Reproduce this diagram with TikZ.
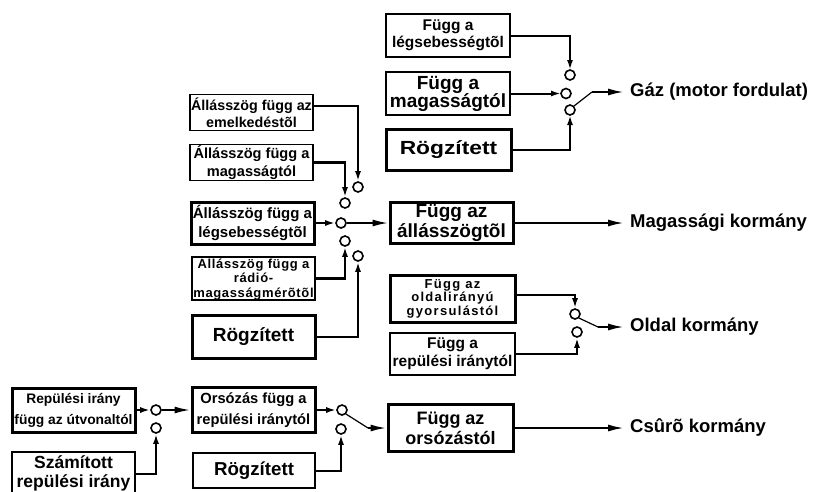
\documentclass[tikz,border=0pt]{standalone}
\usepackage{fontspec}
\usepackage{graphicx}
\setmainfont{Liberation Sans}
\newfontfamily\spacedA[LetterSpace=5]{Liberation Sans}
\newfontfamily\spacedB[LetterSpace=10]{Liberation Sans}
\usetikzlibrary{arrows.meta}
\newcommand\fsz[2]{\fontsize{#1}{#2}\selectfont}
\begin{document}
\begin{tikzpicture}[x=1pt,y=-1pt,
 every node/.style={inner sep=0pt, font=\bfseries},
 thinbox/.style={draw, line width=1.5pt, align=center, fill=white},
 thickbox/.style={draw, line width=3pt, align=center, fill=white},
 contact/.style={circle, draw, line width=1.6pt, minimum size=10pt, fill=white},
 conn/.style={line width=2pt},
 heavy/.style={line width=2.8pt},
 blade/.style={line width=1.2pt},
 tipS/.style={-{Latex[length=10pt,width=6pt]}},
 tipL/.style={-{Latex[length=16pt,width=7pt]}},
 lbl/.style={anchor=west, inner xsep=6pt, font=\bfseries\fsz{18.5}{20}}
]
\clip (0,0) rectangle (826,491);
\fill[white] (0,0) rectangle (826,491);

% ---------- top group (Gaz) ----------
\node[thinbox, minimum width=124pt, minimum height=43pt, font=\bfseries\fsz{15.5}{17}] (T1) at (448,35.5) {Függ a\\légsebességtõl};
\node[thinbox, minimum width=124pt, minimum height=43pt, font=\bfseries\fsz{19}{18}] (T2) at (448,93.5) {Függ a\\magasságtól};
\node[thickbox, minimum width=125pt, minimum height=41pt, font=\bfseries\fsz{19}{20}] (T3) at (448.5,149.5) {\scalebox{1.2}[1]{Rögzített}};

\node[lbl] (gaz) at (624,92) {Gáz (motor fordulat)};
\coordinate (gb) at (592,92);

\draw[conn,tipS] (T1.east) -| (570,70);
\draw[conn,tipS] (T2.east) -- (561,93.5);
\draw[conn,tipS] (T3.east) -| (570,115);
\node[contact] (cT1) at (570,75) {};
\node[contact] (cT2) at (566,93.5) {};
\node[contact] (cT3) at (570,110) {};
\draw[blade] (cT3.north east) -- (gb);
\draw[conn,tipL] (gb) -- (gaz.west);

% ---------- middle group (Magassagi) ----------
\node[thinbox, minimum width=123pt, minimum height=36pt, font=\bfseries\fsz{14.3}{17}] (M1) at (251.5,112.5) {Állásszög függ az\\emelkedéstõl};
\node[thinbox, minimum width=123pt, minimum height=36pt, font=\bfseries\fsz{14.6}{18}] (M2) at (251.5,162.5) {Állásszög függ a\\magasságtól};
\node[thickbox, minimum width=123pt, minimum height=42pt, font=\bfseries\fsz{15}{19}] (M3) at (252.5,223) {Állásszög függ a\\légsebességtõl};
\node[thinbox, minimum width=123pt, minimum height=43pt, font=\bfseries\spacedA\fsz{13}{14.5}] (M4) at (253.5,278.5) {Állásszög függ a\\rádió-\\magasságmérõtõl};
\node[thickbox, minimum width=123pt, minimum height=43pt, font=\bfseries\fsz{19}{20}] (M5) at (253.5,337) {Rögzített};

\node[thickbox, minimum width=123pt, minimum height=41pt, font=\bfseries\fsz{19}{20}] (F1) at (451.5,223) {Függ az\\állásszögtõl};
\node[lbl] (mag) at (624,223) {Magassági kormány};

\node[contact] (cM1) at (358,187) {};
\node[contact] (cM2) at (345,203) {};
\node[contact] (cM3) at (341,223) {};
\node[contact] (cM4) at (345,241) {};
\node[contact] (cM5) at (358,256) {};

\draw[conn,tipS] ([yshift=7pt]M1.east) -| (cM1);
\draw[heavy,tipS] (M2.east) -| (cM2);
\draw[conn,tipS] (M3.east) -- (cM3);
\draw[conn,tipL] (cM3) -- (F1.west);
\draw[heavy,tipS] (M4.east) -| (cM4);
\draw[conn,tipS] (M5.east) -| (cM5);
\draw[conn,tipL] (F1.east) -- (mag.west);

% ---------- Oldal group ----------
\node[thickbox, minimum width=125pt, minimum height=47pt, font=\bfseries\spacedB\fsz{13}{13.5}] (O1) at (452.5,298.5) {Függ az\\oldalirányú\\gyorsulástól};
\node[thinbox, minimum width=125pt, minimum height=42pt, font=\bfseries\fsz{15.5}{18}] (O2) at (452.5,354) {Függ a\\repülési iránytól};
\node[contact] (cO1) at (575,314) {};
\node[contact] (cO2) at (577,332) {};
\node[lbl] (old) at (624,327) {Oldal kormány};
\coordinate (ob) at (598,327);

\draw[heavy,tipS] ([yshift=3.5pt]O1.east) -| (cO1);
\draw[conn,tipS] (O2.east) -| (cO2);
\draw[blade] (cO1.south east) -- (ob);
\draw[conn,tipL] (ob) -- (old.west);

% ---------- bottom group (Csuro) ----------
\node[thickbox, minimum width=123pt, minimum height=44pt, font=\bfseries\fsz{13.8}{21}] (B1) at (73.5,410) {Repülési irány\\függ az útvonaltól};
\node[thinbox, minimum width=123pt, minimum height=50pt, font=\bfseries\fsz{17.5}{19}] (B2) at (73.5,477) {};
\node[font=\bfseries\fsz{17.5}{19}, align=center] (B2t) at (73.5,473.5) {Számított\\repülési irány};
\node[thickbox, minimum width=123pt, minimum height=45pt, font=\bfseries\fsz{14.7}{21}] (R1) at (253.5,410) {Orsózás függ a\\repülési iránytól};
\node[thinbox, minimum width=122pt, minimum height=35pt, font=\bfseries\fsz{18.7}{20}] (R2) at (254,470.5) {Rögzített};
\node[thickbox, minimum width=125pt, minimum height=47pt, font=\bfseries\fsz{18}{20}] (G) at (450.5,428) {Függ az\\orsózástól};
\node[lbl] (csu) at (624,428) {Csûrõ kormány};

\node[contact] (cB1) at (156,410) {};
\node[contact] (cB2) at (156,428) {};
\node[contact] (cR1) at (342,410) {};
\node[contact] (cR2) at (341,429) {};
\coordinate (rb) at (368,428);

\draw[conn,tipS] (B1.east) -- (cB1);
\draw[conn,tipL] (cB1) -- (R1.west);
\draw[conn,tipS] ([yshift=3pt]B2.east) -| (cB2);
\draw[conn,tipS] (R1.east) -- (cR1);
\draw[conn,tipS] (R2.east) -| (cR2);
\draw[blade] (cR1.south east) -- (rb);
\draw[conn,tipL] (rb) -- (G.west);
\draw[conn,tipL] (G.east) -- (csu.west);
\end{tikzpicture}
\end{document}
